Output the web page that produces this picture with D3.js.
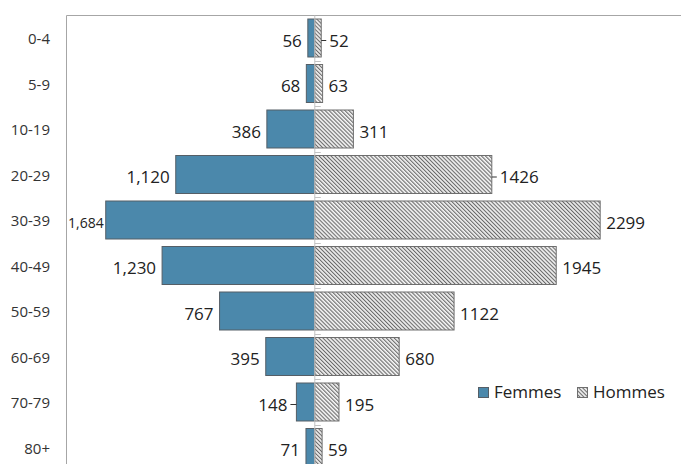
<!DOCTYPE html>
<html>
<head>
<meta charset="utf-8">
<script src="https://cdn.jsdelivr.net/npm/d3@7"></script>
<style>
  body { margin: 0; background: #fff; }
  svg { display: block; font-family: "Open Sans", "Noto Sans", sans-serif; }
</style>
</head>
<body>
<svg id="chart" width="681" height="464"></svg>
<script>
// Age groups, top to bottom
const ageGroups = ["0-4", "5-9", "10-19", "20-29", "30-39", "40-49", "50-59", "60-69", "70-79", "80+"];
// Counts per age group
const femmes = [56, 68, 386, 1120, 1684, 1230, 767, 395, 148, 71];
const hommes = [52, 63, 311, 1426, 2299, 1945, 1122, 680, 195, 59];
// Series names for the legend
const seriesNames = ["Femmes", "Hommes"];
// Labels that sit a little further out, joined to their bar by a short leader
const leaderFemmes = ["70-79"];
const leaderHommes = ["0-4", "20-29"];

const svg = d3.select("#chart");
const W = 681, H = 464;
const plotLeft = 66.5, plotTop = 15.5;

const x = d3.scaleLinear().domain([-2000, 2950]).range([plotLeft, W]);
const y = d3.scaleBand()
  .domain(ageGroups)
  .range([15.25, 15.25 + 45.5 * ageGroups.length])
  .paddingInner(0.165)
  .paddingOuter(0.0825);

const defs = svg.append("defs");
const pat = defs.append("pattern")
  .attr("id", "hatch")
  .attr("patternUnits", "userSpaceOnUse")
  .attr("width", 2.8).attr("height", 2.8)
  .attr("patternTransform", "rotate(-45)");
pat.append("rect").attr("width", 2.8).attr("height", 2.8).attr("fill", "#f4f4f4");
pat.append("rect").attr("width", 1.1).attr("height", 2.8).attr("fill", "#6a6a6a");

const blue = "#4b88ab";
const x0 = x(0);

// Plot frame (left and top edges)
svg.append("path")
  .attr("d", `M${plotLeft},${H} V${plotTop} H${W}`)
  .attr("fill", "none").attr("stroke", "#a6a6a6").attr("stroke-width", 1);

// Bars
const rows = ageGroups.map((g, i) => ({ g, f: femmes[i], h: hommes[i] }));

svg.append("g").selectAll("rect").data(rows).join("rect")
  .attr("x", d => x(-d.f))
  .attr("y", d => y(d.g))
  .attr("width", d => x0 - x(-d.f))
  .attr("height", y.bandwidth())
  .attr("fill", blue)
  .attr("stroke", "#555e66").attr("stroke-width", 1);

svg.append("g").selectAll("rect").data(rows).join("rect")
  .attr("x", x0)
  .attr("y", d => y(d.g))
  .attr("width", d => x(d.h) - x0)
  .attr("height", y.bandwidth())
  .attr("fill", "url(#hatch)")
  .attr("stroke", "#6e6e6e").attr("stroke-width", 1);

// Central axis with ticks at the band boundaries
svg.append("line")
  .attr("x1", x0).attr("x2", x0).attr("y1", plotTop).attr("y2", H)
  .attr("stroke", "#c4c4c4").attr("stroke-width", 1);
const boundaries = ageGroups.map(g => y(g) + y.bandwidth() + y.step() * y.paddingInner() / 2);
svg.append("g").selectAll("line").data(boundaries).join("line")
  .attr("x1", x0).attr("x2", x0 + 6)
  .attr("y1", d => Math.round(d) + 0.5).attr("y2", d => Math.round(d) + 0.5)
  .attr("stroke", "#c4c4c4").attr("stroke-width", 1);

// Category labels
svg.append("g").selectAll("text").data(ageGroups).join("text")
  .attr("x", 50)
  .attr("y", d => y(d) + y.bandwidth() / 2 + 6)
  .attr("text-anchor", "end")
  .attr("font-size", 15)
  .attr("fill", "#333")
  .text(d => d);

// Value labels
const fmtF = d3.format(",");
const gF = svg.append("g");
rows.forEach(d => {
  const cy = y(d.g) + y.bandwidth() / 2;
  const bx = x(-d.f);
  const lead = leaderFemmes.includes(d.g);
  const fits = bx - 8 - 60 > plotLeft;
  const tx = lead ? bx - 9 : (fits ? bx - 6 : bx - 2);
  if (lead) {
    gF.append("line").attr("x1", bx).attr("x2", bx - 6)
      .attr("y1", cy + 2.5).attr("y2", cy + 2.5).attr("stroke", "#333").attr("stroke-width", 1);
  }
  gF.append("text")
    .attr("x", tx).attr("y", cy + (fits ? 8.5 : 7.5))
    .attr("text-anchor", "end")
    .attr("font-size", fits ? 17 : 14)
    .attr("fill", "#222")
    .text(fmtF(d.f));
});

const gH = svg.append("g");
rows.forEach(d => {
  const cy = y(d.g) + y.bandwidth() / 2;
  const bx = x(d.h);
  const lead = leaderHommes.includes(d.g);
  const tx = lead ? bx + 8 : bx + 6;
  if (lead) {
    gH.append("line").attr("x1", bx).attr("x2", bx + 5)
      .attr("y1", cy + 2.5).attr("y2", cy + 2.5).attr("stroke", "#333").attr("stroke-width", 1);
  }
  gH.append("text")
    .attr("x", tx).attr("y", cy + 8.5)
    .attr("text-anchor", "start")
    .attr("font-size", 17)
    .attr("fill", "#222")
    .text(d.h);
});

// Legend
const legend = svg.append("g");
const legendItems = [
  { name: seriesNames[0], fill: blue, stroke: "#555e66", x: 478 },
  { name: seriesNames[1], fill: "url(#hatch)", stroke: "#6e6e6e", x: 577 }
];
legendItems.forEach(it => {
  legend.append("rect")
    .attr("x", it.x + 0.5).attr("y", 387.5)
    .attr("width", 10).attr("height", 10)
    .attr("fill", it.fill).attr("stroke", it.stroke);
  legend.append("text")
    .attr("x", it.x + 16).attr("y", 398)
    .attr("font-size", 17).attr("fill", "#222")
    .text(it.name);
});
</script>
</body>
</html>
